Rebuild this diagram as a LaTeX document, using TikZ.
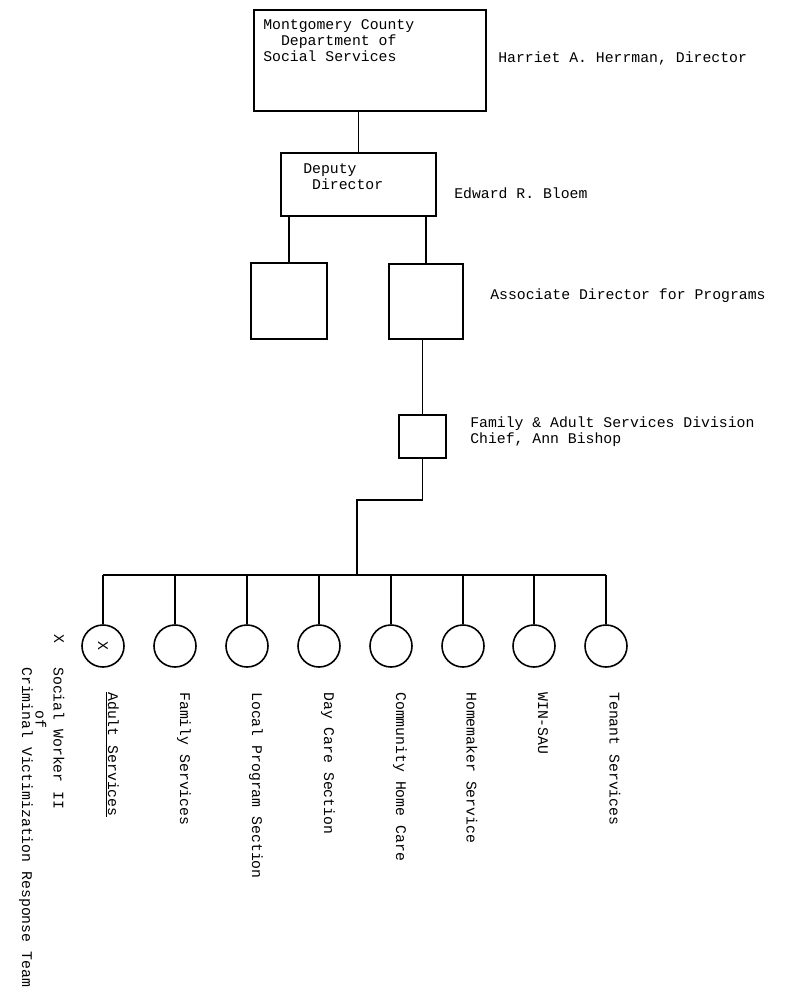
\documentclass[tikz,border=0pt]{standalone}
\usepackage{fontspec}
\newfontfamily\typewriter{Liberation Mono}
\usetikzlibrary{positioning}
\tikzset{
  orgbox/.style={draw,line width=1.3pt,inner sep=0pt},
  unit/.style={draw,circle,line width=1.2pt,minimum size=31.5pt,inner sep=0pt},
  tag/.style={inner sep=0pt,font=\typewriter\fontsize{11.1}{12}\selectfont},
  link/.style={line width=1.3pt}
}

\begin{document}
\begin{tikzpicture}[x=0.75pt,y=-0.75pt]
  \useasboundingbox (0,0) rectangle (789,989);
  % Top office
  \node[orgbox,minimum width=174pt,minimum height=75.75pt] (dss) at (370,60.5) {};
  \node[tag,anchor=north west,align=left] (dsstext) at (263,19)
    {Montgomery County\\\phantom{xx}Department of\\Social Services};
  \node[tag,anchor=west] (director) at (498,58) {Harriet A. Herrman, Director};
  % Deputy
  \node[orgbox,minimum width=116.25pt,minimum height=47.25pt] (deputy) at (358.5,184.5) {};
  \node[tag,anchor=north west,align=left] (deputytext) at (303,163)
    {Deputy\\\phantom{x}Director};
  \node[tag,anchor=west] (deputyname) at (454,193) {Edward R. Bloem};
  % Associate directors
  \node[orgbox,minimum width=57pt,minimum height=57pt] (otherdir) at (289,301) {};
  \node[orgbox,minimum width=55.5pt,minimum height=56.25pt] (prog) at (426,301.5) {};
  \node[tag,anchor=west] (progname) at (490,296) {Associate Director for Programs};
  % Division
  \node[orgbox,minimum width=35.25pt,minimum height=32.25pt] (famdiv) at (422.5,436.5) {};
  \node[tag,anchor=west,align=left] (famdivname) at (470,432)
    {Family \& Adult Services Division\\Chief, Ann Bishop};
  % Units
  \foreach \i/\x/\txt in {1/103/{\underline{Adult Services}},2/175/Family Services,
      3/247/Local Program Section,4/319/Day Care Section,5/391/Community Home Care,
      6/463/Homemaker Service,7/534/WIN-SAU,8/606/Tenant Services}{
    \node[unit] (u\i) at (\x,646) {};
    \node[tag,rotate=-90,anchor=west] (lab\i) at (\x+9,692) {\txt};
  }
  \node[tag,rotate=-90] (mark) at (u1) {X};
  % Note on the left
  \node[tag,rotate=-90,anchor=west] (notex) at (59,634) {X};
  \node[tag,rotate=-90,anchor=west] (note1) at (59,667) {Social Worker II};
  \node[tag,rotate=-90,anchor=west] (note2) at (41,710) {of};
  \node[tag,rotate=-90,anchor=west] (note3) at (26,667) {Criminal Victimization Response Team};
  % Connectors
  \coordinate (elbow) at (357,500);
  \coordinate (bus) at (357,575);
  \draw[link] (dss.south -| deputy.north) -- (deputy.north);
  \draw[link] (otherdir.north |- deputy.south) -- (otherdir.north);
  \draw[link] (prog.north |- deputy.south) -- (prog.north);
  \draw[link] (famdiv.north |- prog.south) -- (famdiv.north);
  \draw[link] (famdiv.south) |- (elbow) -- (bus);
  \draw[link] (u1.north |- bus) -- (u8.north |- bus);
  \foreach \i in {1,...,8}
    \draw[link] (u\i.north |- bus) -- (u\i.north);
\end{tikzpicture}
\end{document}
